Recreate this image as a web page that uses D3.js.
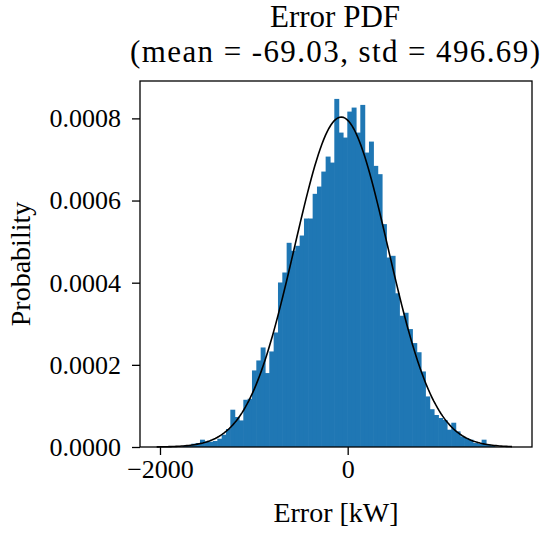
<!DOCTYPE html>
<html>
<head>
<meta charset="utf-8">
<script src="https://cdn.jsdelivr.net/npm/d3@7"></script>
<style>
  body { margin: 0; background: #fff; }
  svg text { font-family: "Liberation Serif", "Times New Roman", serif; fill: #000; }
</style>
</head>
<body>
<div id="chart"></div>
<script>
// histogram of the error, 82 equal bins
var binStart = -2035.5;
var binWidth = 46.17;
var density = [
  0, 0, 0, 0, 0, 0, 0.000003, 0.0000032, 0.000008, 0.0000097,
  0.0000178, 0.0000136, 0.0000129, 0.0000146, 0.0000202, 0.0000299, 0.0000438, 0.0000908, 0.000073, 0.0000647,
  0.000115, 0.0001175, 0.0001864, 0.0002107, 0.0002423, 0.00018, 0.0002326, 0.0002788, 0.0004005, 0.0004248,
  0.0004971, 0.0004776, 0.0004898, 0.0005148, 0.0005562, 0.0005562, 0.0006163, 0.000634, 0.0006705, 0.000707,
  0.0006924, 0.0008474, 0.0007654, 0.0007533, 0.0008165, 0.0008263, 0.0007654, 0.0008328, 0.0007168, 0.0007435,
  0.0006844, 0.0006642, 0.0005426, 0.0004613, 0.0004654, 0.0003742, 0.0003195, 0.0003268, 0.0002871, 0.000253,
  0.0002307, 0.0001839, 0.0001231, 0.000092, 0.0000779, 0.0000706, 0.0000657, 0.0000421, 0.0000591, 0.000038,
  0.0000258, 0.0000219, 0.0000178, 0.0000097, 0.000008, 0.0000178, 0.0000056, 0.0000032, 0, 0,
  0, 0
];
var meanErr = -69.03;
var stdErr = 496.69;
var xTicks = [-2000, 0];
var yTicks = [0, 0.0002, 0.0004, 0.0006, 0.0008];
var xDomain = [-2213, 1964];
var yDomain = [0, 0.000891];

var width = 542, height = 533;
var margin = {top: 81, right: 10, bottom: 86, left: 140};

var svg = d3.select("#chart").append("svg")
    .attr("width", width)
    .attr("height", height);

var x = d3.scaleLinear().domain(xDomain).range([margin.left, width - margin.right]);
var y = d3.scaleLinear().domain(yDomain).range([height - margin.bottom, margin.top]);

var bins = density.map(function (d, i) {
    return {x0: binStart + i * binWidth, x1: binStart + (i + 1) * binWidth, v: d};
});

svg.append("g").selectAll("rect")
    .data(bins.filter(function (d) { return d.v > 0; }))
    .enter().append("rect")
    .attr("x", function (d) { return x(d.x0); })
    .attr("width", function (d) { return x(d.x1) - x(d.x0) + 0.6; })
    .attr("y", function (d) { return y(d.v); })
    .attr("height", function (d) { return y(0) - y(d.v); })
    .attr("fill", "#1f77b4");

// normal pdf from the fitted mean / std over the data range
var lo = binStart, hi = binStart + density.length * binWidth;
var pts = d3.range(0, 201).map(function (i) {
    var v = lo + (hi - lo) * i / 200;
    var z = (v - meanErr) / stdErr;
    return [v, Math.exp(-0.5 * z * z) / (stdErr * Math.sqrt(2 * Math.PI))];
});
svg.append("path")
    .datum(pts)
    .attr("fill", "none")
    .attr("stroke", "#000")
    .attr("stroke-width", 1.6)
    .attr("d", d3.line()
        .x(function (d) { return x(d[0]); })
        .y(function (d) { return y(d[1]); }));

var xAxis = svg.append("g")
    .attr("transform", "translate(0," + (height - margin.bottom) + ")")
    .call(d3.axisBottom(x).tickValues(xTicks).tickSize(8).tickPadding(5)
        .tickFormat(function (d) { return d < 0 ? "\u2212" + Math.abs(d) : d; }));

var yAxis = svg.append("g")
    .attr("transform", "translate(" + margin.left + ",0)")
    .call(d3.axisLeft(y).tickValues(yTicks).tickSize(8).tickPadding(11)
        .tickFormat(d3.format(".4f")));

[xAxis, yAxis].forEach(function (g) {
    g.select(".domain").remove();
    g.selectAll("line").attr("stroke", "#000").attr("stroke-width", 1.3);
    g.selectAll("text").attr("font-size", 26)
        .style("font-family", "'Liberation Serif', serif");
});

svg.append("rect")
    .attr("x", margin.left)
    .attr("y", margin.top)
    .attr("width", width - margin.left - margin.right)
    .attr("height", height - margin.top - margin.bottom)
    .attr("fill", "none")
    .attr("stroke", "#000")
    .attr("stroke-width", 1.3);

var cx = 335;
svg.append("text").attr("x", cx).attr("y", 27).attr("text-anchor", "middle")
    .attr("font-size", 31).text("Error PDF");
svg.append("text").attr("x", cx).attr("y", 62).attr("text-anchor", "middle")
    .attr("font-size", 31)
    .attr("textLength", 410).attr("lengthAdjust", "spacing")
    .text("(mean = -69.03, std = 496.69)");

svg.append("text").attr("x", 336).attr("y", 522).attr("text-anchor", "middle")
    .attr("font-size", 28).text("Error [kW]");
svg.append("text")
    .attr("transform", "translate(30,264) rotate(-90)")
    .attr("text-anchor", "middle")
    .attr("font-size", 28).text("Probability");
</script>
</body>
</html>
